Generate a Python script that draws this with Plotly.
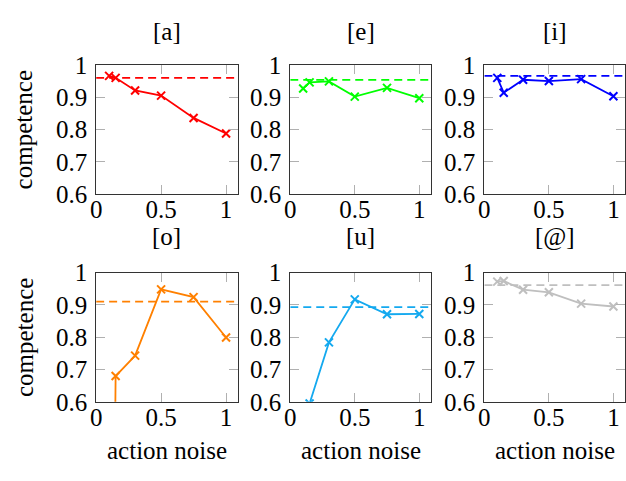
import plotly.graph_objects as go

# ---- data ----
noise = [0.1, 0.15, 0.3, 0.5, 0.75, 1.0]
titles = ["[a]", "[e]", "[i]", "[o]", "[u]", "[@]"]
comp_a = [0.966, 0.960, 0.921, 0.905, 0.836, 0.788]
comp_e = [0.927, 0.946, 0.949, 0.902, 0.929, 0.897]
comp_i = [0.960, 0.914, 0.954, 0.950, 0.956, 0.903]
comp_o = [-1.5, 0.680, 0.743, 0.948, 0.924, 0.799]
comp_u = [0.45, 0.595, 0.784, 0.917, 0.871, 0.872]
comp_at = [0.972, 0.974, 0.947, 0.939, 0.904, 0.895]
baseline = [0.960, 0.954, 0.966, 0.910, 0.893, 0.961]
colors = ["#ff0000", "#00ff00", "#0000ff", "#ff8000", "#14a9ef", "#bfbfbf"]
series = [comp_a, comp_e, comp_i, comp_o, comp_u, comp_at]
x_ticks = [0, 0.5, 1]
x_ticktext = ["0", "0.5", "1"]
y_ticks = [0.6, 0.7, 0.8, 0.9, 1.0]
y_ticktext = ["0.6", "0.7", "0.8", "0.9", "1"]
x_range = [0, 1.09]
y_range = [0.6, 1.0]

W, H = 626, 481
col_px = [(91, 234), (287, 429), (483, 625)]
row_px = [(55, 192), (275, 412)]
title_y_px = [20, 237]
FONT = "Liberation Serif"
FS = 25

fig = go.Figure()
annotations = []
for i in range(6):
    r, c = divmod(i, 3)
    ax = "" if i == 0 else str(i + 1)
    xa, ya = "x" + ax, "y" + ax
    x0, x1 = col_px[c]
    y0, y1 = row_px[r]
    xd = [x0 / W, x1 / W]
    yd = [1 - y1 / H, 1 - y0 / H]
    axis_common = dict(
        showline=True, linecolor="#333333", linewidth=1, mirror="ticks",
        ticks="inside", ticklen=9, tickcolor="#b0b0b0", tickwidth=1,
        showgrid=False, zeroline=False,
        tickfont=dict(family=FONT, size=FS, color="black"),
    )
    fig.update_layout(**{
        "xaxis" + ax: dict(domain=xd, range=x_range, tickvals=x_ticks, ticktext=x_ticktext,
                           anchor=ya, ticklabelstandoff=-7, **axis_common),
        "yaxis" + ax: dict(domain=yd, range=y_range, tickvals=y_ticks, ticktext=y_ticktext,
                           anchor=xa, ticklabelstandoff=3, **axis_common),
    })
    fig.add_trace(go.Scatter(
        x=x_range, y=[baseline[i], baseline[i]], mode="lines",
        line=dict(color=colors[i], width=1.8, dash="8px,5px"),
        xaxis=xa, yaxis=ya, showlegend=False, cliponaxis=True))
    fig.add_trace(go.Scatter(
        x=noise, y=series[i], mode="lines+markers",
        line=dict(color=colors[i], width=1.8),
        marker=dict(symbol="x-thin", size=8, line=dict(color=colors[i], width=2)),
        xaxis=xa, yaxis=ya, showlegend=False, cliponaxis=True))
    annotations.append(dict(
        text=titles[i], x=(xd[0] + xd[1]) / 2, y=1 - title_y_px[r] / H, xref="paper", yref="paper",
        xanchor="center", yanchor="middle", showarrow=False,
        font=dict(family=FONT, size=FS, color="black")))
    if c == 0:
        annotations.append(dict(
            text="competence", x=18 / W, y=(yd[0] + yd[1]) / 2, xref="paper", yref="paper",
            xanchor="center", yanchor="middle", textangle=-90, showarrow=False,
            font=dict(family=FONT, size=FS, color="black")))
    if r == 1:
        annotations.append(dict(
            text="action noise", x=(xd[0] + xd[1]) / 2, y=1 - 463 / H, xref="paper", yref="paper",
            xanchor="center", yanchor="middle", showarrow=False,
            font=dict(family=FONT, size=FS, color="black")))

fig.update_layout(
    width=W, height=H, margin=dict(l=0, r=0, t=0, b=0),
    paper_bgcolor="white", plot_bgcolor="white",
    annotations=annotations,
)
fig.write_html("out.html")
